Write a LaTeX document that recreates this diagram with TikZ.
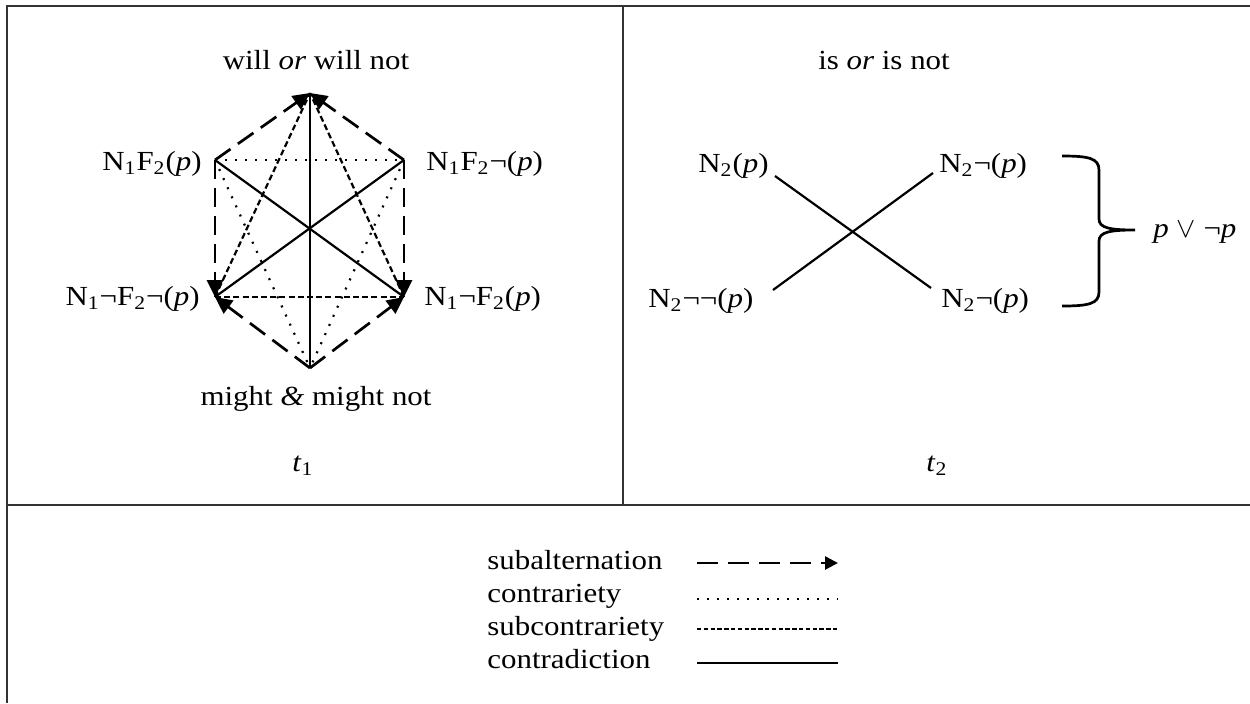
\documentclass[tikz,border=0pt]{standalone}
\usepackage{fontspec}
\setmainfont{Liberation Serif}[FakeStretch=1.12]
\usetikzlibrary{arrows.meta}
\tikzset{
  frame/.style={line width=1pt, draw=black!80},
  subalt/.style={line width=1.35pt, dash pattern=on 9.5pt off 4.5pt},
  subalttip/.style={subalt, -{Triangle[length=8.5pt,width=8pt]}},
  contrary/.style={line width=1.1pt, dash pattern=on 1pt off 4pt},
  subcontrary/.style={line width=1.1pt, dash pattern=on 3pt off 1.6pt},
  contra/.style={line width=1.1pt},
  lbl/.style={inner sep=0pt, font=\fontsize{13.8}{15}\selectfont},
  bracestyle/.style={line width=1.35pt},
}
\begin{document}
\begin{tikzpicture}[x=0.5pt,y=-0.5pt]
\useasboundingbox (0,0) rectangle (1250,703);
% frame
\draw[frame] (7,703) -- (7,5.5) -- (1250,5.5);
\draw[frame] (7,505) -- (1250,505);
\draw[frame] (623,5.5) -- (623,505);

% ---------- left panel (t1) ----------
\coordinate (A) at (310,93);
\coordinate (B) at (215,160);
\coordinate (C) at (404,160);
\coordinate (D) at (215,297);
\coordinate (E) at (404,297);
\coordinate (F) at (310,368);

\node[lbl, anchor=base] (will) at (316,69) {will \textit{or} will not};
\node[lbl, anchor=base] (might) at (316,405) {might \textit{\&} might not};
\node[lbl, anchor=east] (lB) at (202,164) {N\textsubscript{1}F\textsubscript{2}(\textit{p})};
\node[lbl, anchor=west] (lC) at (426,164) {N\textsubscript{1}F\textsubscript{2}¬(\textit{p})};
\node[lbl, anchor=east] (lD) at (200,299) {N\textsubscript{1}¬F\textsubscript{2}¬(\textit{p})};
\node[lbl, anchor=west] (lE) at (424,299) {N\textsubscript{1}¬F\textsubscript{2}(\textit{p})};
\node[lbl, anchor=base] (t1) at (303,471) {\textit{t}\textsubscript{1}};

% contradiction
\draw[contra] (A) -- (F);
\draw[contra] (B) -- (E);
\draw[contra] (C) -- (D);
% contrariety
\draw[contrary] (B) -- (C);
\draw[contrary] (B) -- (F);
\draw[contrary] (C) -- (F);
% subcontrariety
\draw[subcontrary] (D) -- (A);
\draw[subcontrary] (E) -- (A);
\draw[subcontrary] (D) -- (E);
% subalternation
\draw[subalttip] (B) -- (A);
\draw[subalttip] (C) -- (A);
\draw[subalttip] (B) -- (D);
\draw[subalttip] (C) -- (E);
\draw[subalttip] (F) -- (D);
\draw[subalttip] (F) -- (E);

% ---------- right panel (t2) ----------
\node[lbl, anchor=base] (isnot) at (884,69) {is \textit{or} is not};
\node[lbl, anchor=west] (n2p) at (698,166) {N\textsubscript{2}(\textit{p})};
\node[lbl, anchor=west] (n2np) at (939,166) {N\textsubscript{2}¬(\textit{p})};
\node[lbl, anchor=west] (n2nnp) at (648,301) {N\textsubscript{2}¬¬(\textit{p})};
\node[lbl, anchor=west] (n2npb) at (941,301) {N\textsubscript{2}¬(\textit{p})};
\node[lbl, anchor=base] (t2) at (937,471) {\textit{t}\textsubscript{2}};
\coordinate (r1a) at (775,176);
\coordinate (r1b) at (931,288);
\coordinate (r2a) at (773,290);
\coordinate (r2b) at (933,173);
\draw[contra] (r1a) -- (r1b);
\draw[contra] (r2a) -- (r2b);

% brace
\coordinate (brtip) at (1135,230);
\draw[bracestyle] (1062,156) .. controls (1088,156) and (1099,158) .. (1099,170)
  -- (1099,219) .. controls (1099,228) and (1110,230) .. (brtip)
  .. controls (1110,230) and (1099,232) .. (1099,241)
  -- (1099,292) .. controls (1099,304) and (1088,306) .. (1062,306);
\node[lbl, anchor=west] (taut) at (1153,232) {\textit{p} $\vee$ ¬\textit{p}};

% ---------- legend ----------
\node[lbl, anchor=base west] (k1) at (487,569) {subalternation};
\node[lbl, anchor=base west] (k2) at (487,602) {contrariety};
\node[lbl, anchor=base west] (k3) at (487,635) {subcontrariety};
\node[lbl, anchor=base west] (k4) at (487,668) {contradiction};
\coordinate (k1a) at (697,563); \coordinate (k1b) at (838,563);
\coordinate (k2a) at (697,599); \coordinate (k2b) at (838,599);
\coordinate (k3a) at (697,629); \coordinate (k3b) at (838,629);
\coordinate (k4a) at (697,663); \coordinate (k4b) at (838,663);
\draw[subalttip, dash pattern=on 10.5pt off 5pt, -{Triangle[length=6.5pt,width=6.5pt]}] (k1a) -- (k1b);
\draw[contrary, line width=0.8pt, dash pattern=on 0.8pt off 4.2pt] (k2a) -- (k2b);
\draw[subcontrary, dash pattern=on 2.2pt off 1.2pt] (k3a) -- (k3b);
\draw[contra] (k4a) -- (k4b);
\end{tikzpicture}
\end{document}
